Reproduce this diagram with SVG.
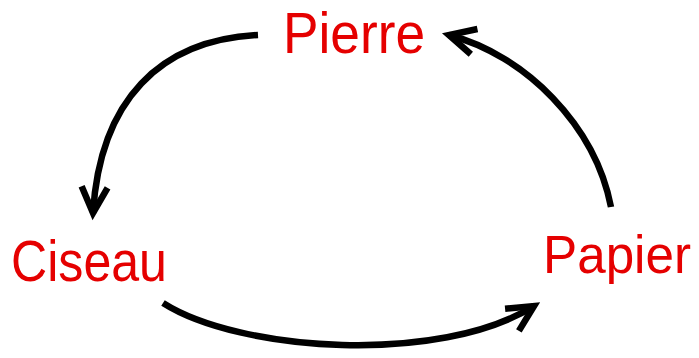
<svg xmlns="http://www.w3.org/2000/svg" width="699" height="358" viewBox="0 0 699 358">
<style>
.lbl{font-family:"Liberation Sans",Arial,sans-serif;font-size:57px;fill:#e50000}
.edge{fill:none;stroke:#000;stroke-width:6.5}
</style>
<defs>
<marker id="arr" markerUnits="userSpaceOnUse" viewBox="-40 -25 50 50" markerWidth="50" markerHeight="50" refX="0" refY="0" orient="auto" overflow="visible">
<path d="M-26,-13 L0,0 L-26,13" fill="none" stroke="#000" stroke-width="6.5" stroke-linejoin="miter" stroke-miterlimit="10"/>
</marker>
</defs>
<g id="connectors">
<path class="edge" d="M258,35 C160,40 100,100 93,213" marker-end="url(#arr)"/>
<path class="edge" d="M163,303 C240,352 440,365 534,306" marker-end="url(#arr)"/>
<path class="edge" d="M611,207 C595,125 525,55 449,35" marker-end="url(#arr)"/>
</g>
<g id="pierre"><text class="lbl" x="283" y="53" textLength="142" lengthAdjust="spacingAndGlyphs">Pierre</text></g>
<g id="ciseau"><text class="lbl" x="11" y="281" textLength="156" lengthAdjust="spacingAndGlyphs">Ciseau</text></g>
<g id="papier"><text class="lbl" x="543" y="273" style="font-size:54px" textLength="148" lengthAdjust="spacingAndGlyphs">Papier</text></g>
</svg>
